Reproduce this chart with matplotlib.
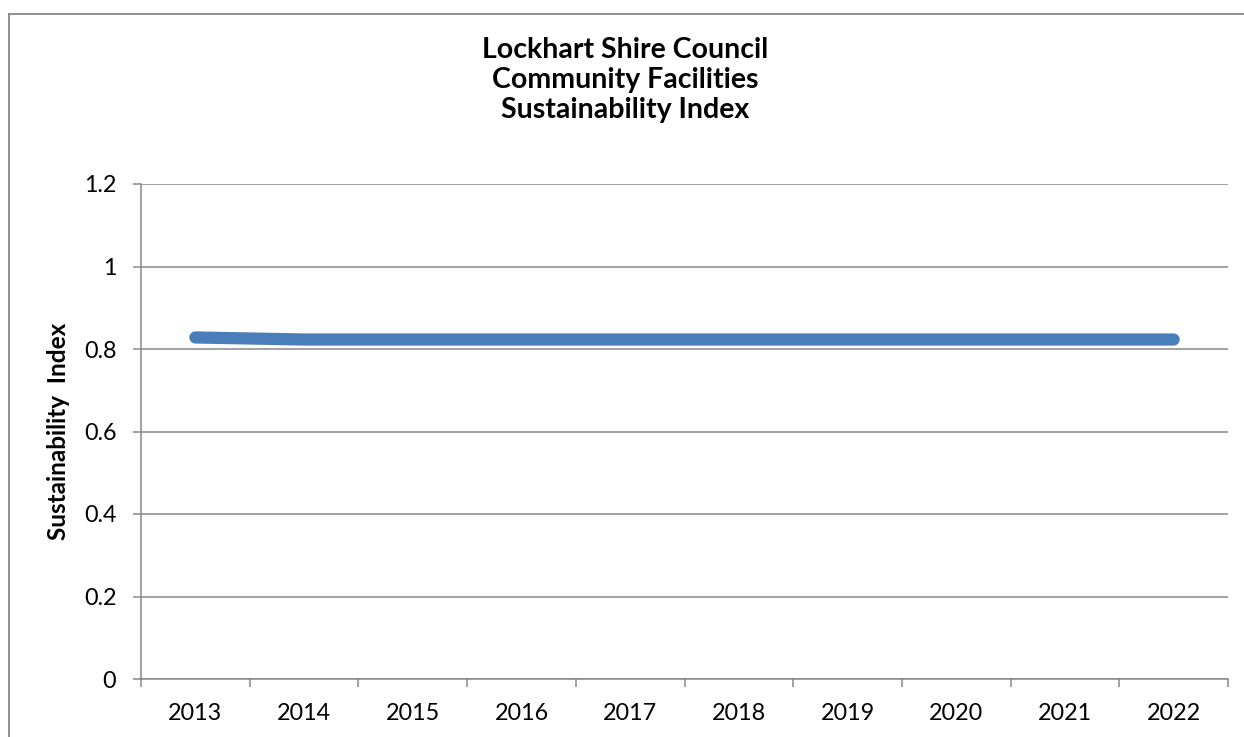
import matplotlib
matplotlib.use("Agg")
import matplotlib.pyplot as plt
from matplotlib.lines import Line2D
import numpy as np

years = ["2013", "2014", "2015", "2016", "2017", "2018", "2019", "2020", "2021", "2022"]
index_values = [0.828, 0.823, 0.823, 0.823, 0.823, 0.823, 0.823, 0.823, 0.823, 0.823]
y_ticks = [0, 0.2, 0.4, 0.6, 0.8, 1.0, 1.2]
y_tick_labels = ["0", "0.2", "0.4", "0.6", "0.8", "1", "1.2"]
title_text = "Lockhart Shire Council\nCommunity Facilities\nSustainability Index"
ylabel_text = "Sustainability  Index"

plt.rcParams['font.family'] = ['Lato', 'DejaVu Sans']

W, H = 1244, 737
fig = plt.figure(figsize=(W / 100, H / 100), dpi=100)
fig.patch.set_facecolor("white")

grey = "#878787"
ax = fig.add_axes([141 / W, (H - 679) / H, (1228 - 141) / W, (679 - 184) / H])

x = np.arange(len(years))
line, = ax.plot(x, index_values, color="#4A7EBB", linewidth=8.8, solid_capstyle="round", zorder=3)

ax.set_xlim(-0.5, len(years) - 0.5)
ax.set_ylim(0, 1.2)

ax.set_yticks(y_ticks)
ax.set_yticklabels(y_tick_labels)
ax.set_xticks(x)
ax.set_xticklabels(years)
ax.set_xticks(np.arange(-0.5, len(years)), minor=True)

ax.tick_params(axis="x", which="major", length=0, pad=17, labelsize=16.8, labelcolor="black")
ax.tick_params(axis="x", which="minor", length=5.8, width=1.1, color=grey, direction="out")
ax.tick_params(axis="y", which="major", length=5.8, width=1.1, color=grey, direction="out",
               pad=12, labelsize=16.8, labelcolor="black")

for s in ["top", "right"]:
    ax.spines[s].set_visible(False)
for s in ["left", "bottom"]:
    ax.spines[s].set_color(grey)
    ax.spines[s].set_linewidth(1.1)

ax.yaxis.grid(True, color=grey, linewidth=1.1)
ax.set_axisbelow(True)

ax.set_ylabel(ylabel_text, fontsize=17.5, fontweight="bold", va="center")
ax.yaxis.set_label_coords((58 - 141) / 1087, 0.5)

fig.text(625 / W, 1 - 80 / H, title_text, ha="center", va="center", fontsize=20.5,
         fontweight="bold", linespacing=1.2)

# chart area border (left and top edges visible)
fig.add_artist(Line2D([8.5 / W, 8.5 / W], [0, 1 - 13.5 / H], transform=fig.transFigure,
                      color=grey, linewidth=1.3))
fig.add_artist(Line2D([8.5 / W, 1], [1 - 13.5 / H, 1 - 13.5 / H], transform=fig.transFigure,
                      color=grey, linewidth=1.3))

fig.savefig("out.png", dpi=100, facecolor="white")
